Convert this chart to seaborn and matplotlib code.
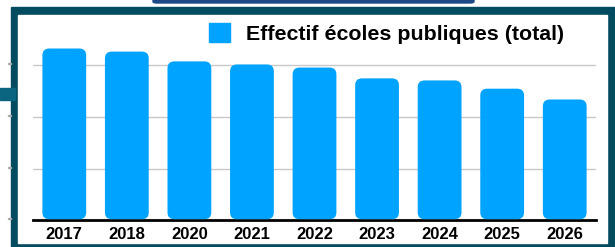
import seaborn as sns
import matplotlib.pyplot as plt
from matplotlib.patches import FancyBboxPatch, Rectangle, Patch

sns.set_style('white')
plt.rcParams['font.family'] = ['Liberation Sans', 'DejaVu Sans']
plt.rcParams['text.color'] = 'black'
plt.rcParams['xtick.color'] = 'black'

annees = ['2017', '2018', '2020', '2021', '2022', '2023', '2024', '2025', '2026']
effectif = [3330, 3270, 3080, 3020, 2960, 2750, 2710, 2550, 2340]
serie = 'Effectif écoles publiques (total)'
couleur = '#00a3ff'

W, H = 615, 247
fig = plt.figure(figsize=(W / 100, H / 100), dpi=100)

# cadre autour du graphique (capture d'ecran)
fig.patches.append(Rectangle((11 / W, 0), 1, 1 - 7 / H, transform=fig.transFigure,
                             color='#034b5f', zorder=0))
fig.patches.append(Rectangle((18 / W, 4 / H), 589 / W, 1 - 19 / H, transform=fig.transFigure,
                             color='white', zorder=0.5))
fig.patches.append(FancyBboxPatch((153 / W, 1 - 3 / H), 321 / W, 6 / H, transform=fig.transFigure,
                                  boxstyle='round,pad=0,rounding_size=0.006', color='#1d4a86', zorder=1))
fig.patches.append(Rectangle((0, 1 - 100 / H), 15 / W, 12 / H, transform=fig.transFigure,
                             color='#0b6580', zorder=1))
for yp in [64, 116, 168, 219]:
    fig.patches.append(Rectangle((8 / W, 1 - yp / H), 3 / W, 1 / H, transform=fig.transFigure,
                                 color='#aaaaaa', zorder=1))

ax = fig.add_axes([33 / W, 27 / H, 563 / W, 206 / H])
ax.set_zorder(2)
ax.patch.set_alpha(0)
sns.barplot(x=annees, y=effectif, color=couleur, width=0.7, saturation=1, ax=ax)
ax.set_ylim(0, 4000)

# barres arrondies
for p in list(ax.patches):
    x0, w, h = p.get_x(), p.get_width(), p.get_height()
    p.set_visible(False)
    ax.add_patch(FancyBboxPatch((x0, 15), w, h - 15,
                                boxstyle='round,pad=0,rounding_size=0.11',
                                mutation_aspect=1200, color=couleur, zorder=3, lw=0))

ax.set_yticks([1000, 2000, 3000])
ax.set_yticklabels([])
ax.grid(axis='y', color='#c8c8c8', lw=1)
ax.set_axisbelow(True)
sns.despine(ax=ax, left=True, top=True, right=True)
ax.spines['bottom'].set_linewidth(2)
ax.spines['bottom'].set_color('black')
ax.tick_params(axis='both', length=0)
ax.tick_params(axis='x', pad=5)
for t in ax.get_xticklabels():
    t.set_fontweight('bold')
    t.set_fontsize(12)

leg = fig.legend(handles=[Patch(color=couleur, label=serie)], loc='upper left',
                 bbox_to_anchor=(209 / W, 1 - 23 / H), frameon=False, borderpad=0,
                 borderaxespad=0, handlelength=1.0, handleheight=1.0, handletextpad=0.72,
                 prop={'weight': 'bold', 'size': 15.4})
leg.set_zorder(3)

fig.savefig('out.png', dpi=100)
